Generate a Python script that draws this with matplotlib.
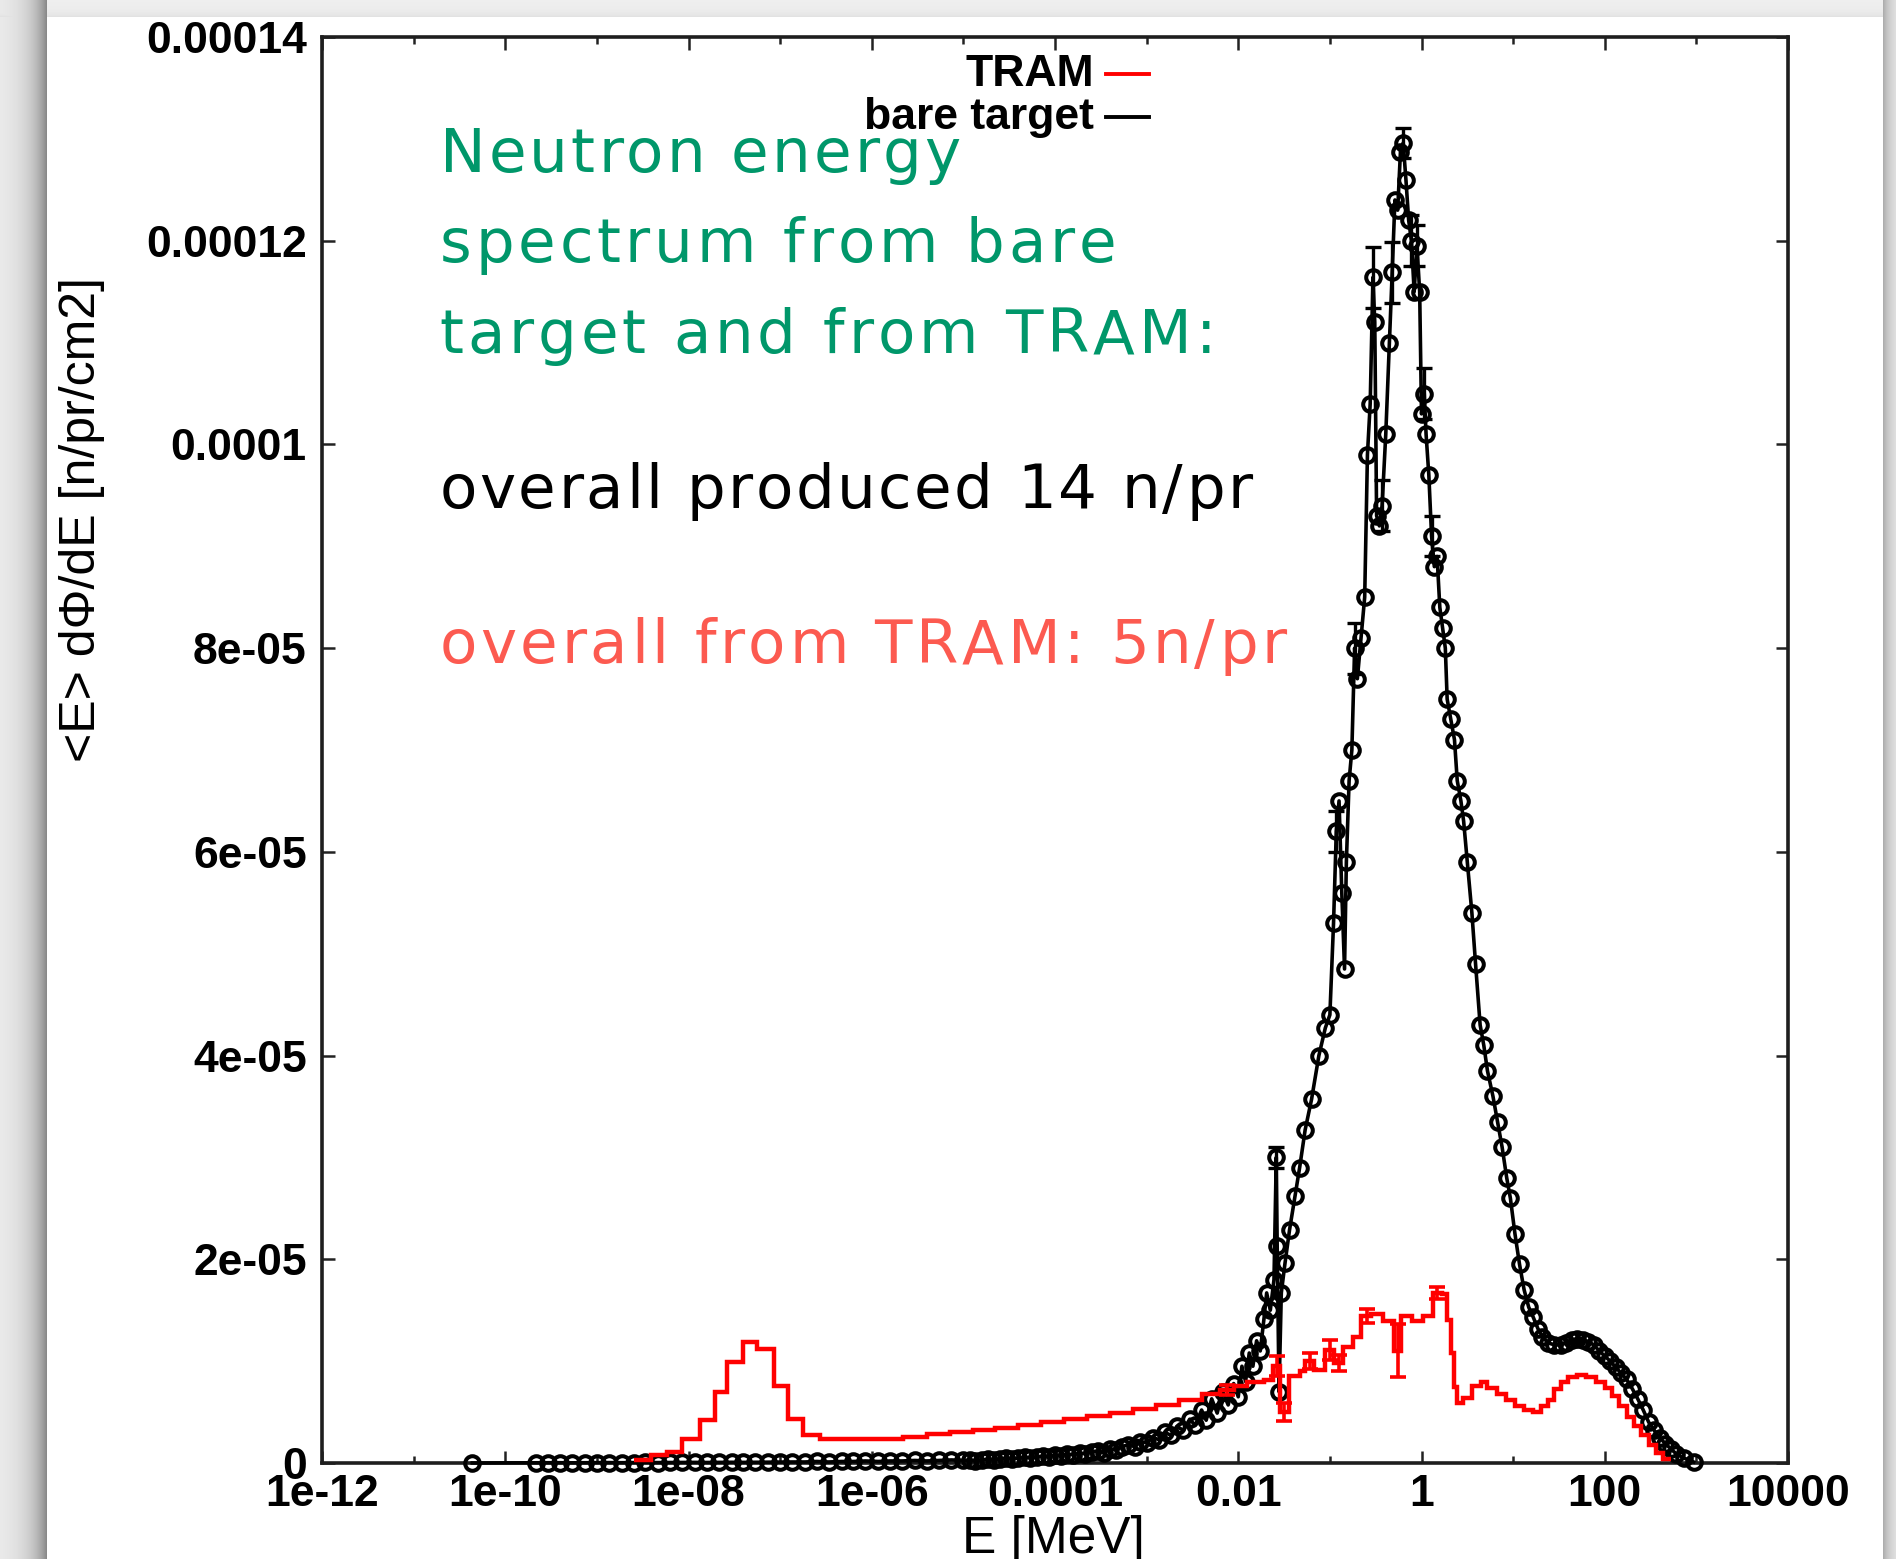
import numpy as np
import matplotlib
matplotlib.use("Agg")
import matplotlib.pyplot as plt
from matplotlib.ticker import FixedLocator, NullFormatter
from matplotlib.lines import Line2D
from matplotlib.font_manager import FontProperties, findfont, get_font

W, H, DPI = 1896, 1559, 100

# ---------------- data (energies as log10(E/MeV), flux in 1e-6 n/pr/cm2) ----------------
# bare target: thermal / epithermal points
black_low_logE = [-10.36, -9.66, -9.53, -9.40, -9.27, -9.13, -9.00, -8.87, -8.73, -8.60,
                  -8.47, -8.33, -8.20, -8.07, -7.93, -7.80, -7.67, -7.53, -7.40, -7.27,
                  -7.13, -7.00, -6.87, -6.73, -6.60, -6.47, -6.33, -6.20, -6.07, -5.93,
                  -5.80, -5.67, -5.53, -5.40, -5.27, -5.13, -5.00]
black_low_flux = [0.0, 0.02, 0.02, 0.03, 0.02, 0.03, 0.03, 0.04, 0.03, 0.04,
                  0.05, 0.04, 0.05, 0.05, 0.06, 0.05, 0.06, 0.07, 0.06, 0.07,
                  0.08, 0.08, 0.10, 0.10, 0.15, 0.10, 0.15, 0.15, 0.20, 0.15,
                  0.20, 0.20, 0.25, 0.20, 0.25, 0.30, 0.25]

# bare target: rise towards the evaporation peak
black_rise_logE = [-4.93, -4.87, -4.80, -4.73, -4.67, -4.60, -4.53, -4.47, -4.40, -4.33,
                   -4.27, -4.20, -4.13, -4.07, -4.00, -3.93, -3.87, -3.80, -3.73, -3.67,
                   -3.60, -3.53, -3.47, -3.40, -3.33, -3.27, -3.20, -3.13, -3.07, -3.00,
                   -2.93, -2.87, -2.80, -2.73, -2.67, -2.60, -2.53, -2.47, -2.40, -2.35,
                   -2.29, -2.23, -2.17, -2.11, -2.05, -2.00, -1.96, -1.92, -1.88, -1.84,
                   -1.80, -1.76, -1.72, -1.69, -1.65, -1.61, -1.585, -1.575, -1.555, -1.53,
                   -1.49, -1.44, -1.38, -1.33, -1.27, -1.20, -1.12, -1.05, -1.00]
black_rise_flux = [0.3, 0.2, 0.3, 0.4, 0.3, 0.4, 0.5, 0.4, 0.5, 0.6,
                   0.5, 0.6, 0.7, 0.6, 0.8, 0.7, 0.9, 0.8, 1.0, 0.9,
                   1.1, 1.2, 1.0, 1.4, 1.3, 1.6, 1.8, 1.6, 2.1, 2.0,
                   2.5, 2.3, 3.0, 2.7, 3.6, 3.2, 4.3, 3.7, 5.2, 4.2,
                   6.3, 4.9, 7.0, 5.7, 7.8, 6.5, 9.5, 8.0, 10.8, 9.5,
                   12.0, 11.0, 14.1, 16.7, 15.0, 18.0, 30.0, 21.3, 7.0, 16.7,
                   19.6, 22.9, 26.2, 29.0, 32.7, 35.7, 40.0, 42.7, 44.0]

# bare target: peak region
black_peak_logE = [-0.96, -0.93, -0.90, -0.87, -0.84, -0.82, -0.79, -0.76, -0.73, -0.70,
                   -0.66, -0.62, -0.59, -0.56, -0.53, -0.51, -0.49, -0.46, -0.43, -0.39,
                   -0.35, -0.32, -0.29, -0.26, -0.23, -0.20, -0.17, -0.14, -0.11, -0.08,
                   -0.05, -0.02, 0.00, 0.03, 0.05, 0.08, 0.11, 0.14, 0.17]
black_peak_flux = [53.0, 62.0, 65.0, 56.0, 48.5, 59.0, 67.0, 70.0, 80.0, 77.0,
                   81.0, 85.0, 99.0, 104.0, 116.4, 112.0, 93.0, 92.0, 94.0, 101.0,
                   110.0, 116.9, 124.0, 123.0, 128.7, 129.6, 126.0, 122.0, 120.0, 115.0,
                   119.5, 115.0, 103.0, 105.0, 101.0, 97.0, 91.0, 88.0, 89.0]

# bare target: fast / high-energy tail
black_tail_logE = [0.20, 0.23, 0.26, 0.28, 0.32, 0.36, 0.39, 0.43, 0.46, 0.50,
                   0.55, 0.59, 0.64, 0.68, 0.72, 0.78, 0.83, 0.88, 0.93, 0.97,
                   1.02, 1.07, 1.12, 1.17, 1.22, 1.27, 1.32, 1.38, 1.45, 1.52,
                   1.58, 1.64, 1.70, 1.76, 1.82, 1.88, 1.94, 2.00, 2.06, 2.12,
                   2.18, 2.24, 2.30, 2.36, 2.42, 2.48, 2.54, 2.60, 2.66, 2.72,
                   2.78, 2.86, 2.97]
black_tail_flux = [84.0, 82.0, 80.0, 75.0, 73.0, 71.0, 67.0, 65.0, 63.0, 59.0,
                   54.0, 49.0, 43.0, 41.0, 38.5, 36.0, 33.5, 31.0, 28.0, 26.0,
                   22.5, 19.5, 17.0, 15.3, 14.3, 13.2, 12.4, 11.8, 11.6, 11.6,
                   11.8, 12.1, 12.2, 12.1, 11.9, 11.6, 11.0, 10.5, 10.0, 9.4,
                   8.8, 8.2, 7.3, 6.3, 5.2, 4.0, 3.2, 2.5, 1.9, 1.4,
                   0.9, 0.5, 0.1]

# bare target: statistical error bars around the peak
black_bar_logE = [-1.585, -0.93, -0.73, -0.53, -0.43, -0.32, -0.20, -0.11, -0.05, 0.03, 0.11]
black_bar_flux = [30.0, 62.0, 80.0, 116.4, 94.0, 116.9, 129.6, 120.0, 119.5, 105.0, 91.0]
black_bar_err = [1.0, 2.0, 2.5, 3.0, 2.5, 3.0, 1.5, 2.5, 2.0, 2.5, 2.0]

# TRAM: histogram bin edges and contents
tram_edges_logE = [-8.60, -8.41, -8.24, -8.07, -7.87, -7.71, -7.58, -7.40, -7.25, -7.07,
                   -6.91, -6.75, -6.56, -5.66, -5.40, -5.15, -4.90, -4.65, -4.40, -4.15,
                   -3.90, -3.65, -3.40, -3.15, -2.90, -2.65, -2.40, -2.20, -2.05, -1.90,
                   -1.72, -1.62, -1.54, -1.45, -1.33, -1.27, -1.17, -1.05, -0.95, -0.86,
                   -0.75, -0.66, -0.55, -0.42, -0.30, -0.22, -0.10, 0.02, 0.13, 0.22,
                   0.28, 0.32, 0.35, 0.39, 0.45, 0.55, 0.65, 0.72, 0.82, 0.92,
                   1.02, 1.12, 1.22, 1.30, 1.38, 1.45, 1.52, 1.60, 1.70, 1.80,
                   1.90, 2.00, 2.08, 2.16, 2.24, 2.32, 2.40, 2.48, 2.56, 2.64,
                   2.72]
tram_flux = [0.3, 0.8, 1.1, 2.4, 4.2, 7.0, 9.95, 11.9, 11.2, 7.6,
             4.3, 2.75, 2.33, 2.6, 2.8, 3.0, 3.2, 3.4, 3.7, 4.0,
             4.3, 4.6, 4.9, 5.3, 5.7, 6.2, 6.8, 7.2, 7.6, 8.0,
             8.1, 9.5, 5.0, 8.5, 9.0, 10.0, 9.1, 11.1, 9.8, 11.4,
             12.4, 14.4, 14.6, 13.9, 11.0, 14.4, 13.9, 14.4, 16.7, 16.6,
             14.0, 10.8, 7.5, 5.9, 6.4, 7.6, 8.0, 7.4, 6.8, 6.2,
             5.6, 5.2, 5.0, 5.6, 6.2, 7.3, 8.0, 8.4, 8.6, 8.4,
             8.0, 7.4, 6.6, 5.6, 4.5, 3.6, 2.7, 1.8, 1.0, 0.4]

# TRAM: statistical error bars
tram_bar_logE = [-2.12, -1.58, -1.50, -1.22, -1.00, -0.90, -0.60, -0.26, 0.17]
tram_bar_flux = [7.2, 9.5, 5.0, 10.0, 11.1, 9.8, 14.4, 11.0, 16.7]
tram_bar_err = [0.5, 1.0, 0.9, 0.8, 1.0, 0.8, 0.7, 2.6, 0.6]

x_major = [1e-12, 1e-10, 1e-8, 1e-6, 1e-4, 1e-2, 1, 1e2, 1e4]
x_major_labels = ["1e-12", "1e-10", "1e-08", "1e-06", "0.0001", "0.01", "1", "100", "10000"]
x_minor = [1e-11, 1e-9, 1e-7, 1e-5, 1e-3, 1e-1, 1e1, 1e3]
y_major = [0, 2e-5, 4e-5, 6e-5, 8e-5, 1e-4, 1.2e-4, 1.4e-4]
y_major_labels = ["0", "2e-05", "4e-05", "6e-05", "8e-05", "0.0001", "0.00012", "0.00014"]

note_lines = ["Neutron energy", "spectrum from bare", "target and from TRAM:",
              "overall produced 14 n/pr", "overall from TRAM: 5n/pr"]

assert len(tram_edges_logE) == len(tram_flux) + 1

black_logE = np.array(black_low_logE + black_rise_logE + black_peak_logE + black_tail_logE)
black_flux = np.array(black_low_flux + black_rise_flux + black_peak_flux + black_tail_flux) * 1e-6

# ---------------- figure & slide backdrop ----------------
fig = plt.figure(figsize=(W / DPI, H / DPI), dpi=DPI)

px = np.arange(W)[None, :].astype(float)
py = np.arange(H)[:, None].astype(float)
page_l, page_r, page_t = 47, 1882, 17
dl = page_l - px
dr = px - page_r
dt = page_t - py
shade = np.zeros((H, W))
shade = np.maximum(shade, np.where(dl > 0, 0.40 * np.exp(-(dl - 1) / 16.0), 0) * np.ones((H, 1)))
shade = np.maximum(shade, np.where(dr > 0, 0.26 * np.exp(-(dr - 1) / 9.0), 0) * np.ones((H, 1)))
shade = np.maximum(shade, np.where(dt > 0, 0.05 * np.exp(-(dt - 1) / 5.0), 0) * np.ones((1, W)))
outside = (dl > 0) | (dr > 0) | (dt > 0)
gray = np.where(outside, 0.94 - shade, 1.0)
bg = fig.add_axes([0, 0, 1, 1], zorder=-10)
bg.imshow(np.dstack([gray] * 3), aspect="auto", interpolation="bilinear")
bg.set_axis_off()

# ---------------- spectrum axes ----------------
ax = fig.add_axes([322 / W, 1 - 1463 / H, (1788 - 322) / W, (1463 - 37) / H])
ax.set_facecolor("none")
ax.set_xscale("log")
ax.set_xlim(1e-12, 1e4)
ax.set_ylim(0, 1.4e-4)

tick_font = dict(family="Liberation Sans", weight="bold", size=32)
ax.set_xticks(x_major)
ax.set_xticklabels(x_major_labels, fontdict=tick_font)
ax.xaxis.set_minor_locator(FixedLocator(x_minor))
ax.xaxis.set_minor_formatter(NullFormatter())
ax.set_yticks(y_major)
ax.set_yticklabels(y_major_labels, fontdict=tick_font)
ax.tick_params(which="both", direction="in", top=True, right=True, width=1.8, color="#222222")
ax.tick_params(which="major", length=9)
ax.tick_params(which="minor", length=5)
ax.tick_params(axis="y", pad=11)
ax.tick_params(axis="x", pad=8)
for s in ax.spines.values():
    s.set_linewidth(2.6)
    s.set_color("#1e1e1e")

# bare target
ax.plot(10 ** black_logE, black_flux, "-o", color="black", lw=2.6, ms=10.5,
        mfc="none", mew=2.9, clip_on=False, zorder=3)
ax.errorbar(10 ** np.array(black_bar_logE), np.array(black_bar_flux) * 1e-6,
            yerr=np.array(black_bar_err) * 1e-6, fmt="none", ecolor="black",
            elinewidth=2.4, capsize=6, capthick=2.4, zorder=3)

# TRAM
ax.stairs(np.array(tram_flux) * 1e-6, 10 ** np.array(tram_edges_logE), color="red",
          lw=3.2, baseline=None, zorder=4)
ax.errorbar(10 ** np.array(tram_bar_logE), np.array(tram_bar_flux) * 1e-6,
            yerr=np.array(tram_bar_err) * 1e-6, fmt="none", ecolor="red",
            elinewidth=2.6, capsize=6, capthick=2.6, zorder=4)

# key
key_font = dict(family="Liberation Sans", weight="bold", size=32)
fig.text(1094 / W, 1 - 74 / H, "TRAM", ha="right", va="center", **key_font)
fig.text(1094 / W, 1 - 117 / H, "bare target", ha="right", va="center", **key_font)
fig.add_artist(Line2D([1106 / W, 1149 / W], [1 - 74 / H] * 2, color="red", lw=2.8))
fig.add_artist(Line2D([1106 / W, 1149 / W], [1 - 117 / H] * 2, color="black", lw=2.8))

# axis titles
fig.text(82 / W, 1 - 520 / H, "<E> dΦ/dE [n/pr/cm2]", rotation=90, ha="center", va="center",
         family="Liberation Sans", size=36)
fig.text(1053 / W, 1 - 1540 / H, "E [MeV]", ha="center", va="center",
         family="Liberation Sans", size=37)


# slide annotations, set with open letter spacing
def spaced_text(x_px, y_px, text, track_px, color, family="DejaVu Sans", size=44):
    font = get_font(findfont(FontProperties(family=family)))
    font.set_size(size, DPI)
    unit = 64.0 * plt.rcParams["text.hinting_factor"]
    pen = x_px
    for ch in text:
        glyph = font.load_char(ord(ch))
        if ch != " ":
            fig.text((pen + glyph.horiBearingX / unit) / W, 1 - y_px / H, ch,
                     color=color, va="baseline", ha="left", family=family, size=size)
        pen += glyph.horiAdvance / unit + track_px


green = "#00976a"
spaced_text(439, 172, note_lines[0], 3.1, green)
spaced_text(439, 262, note_lines[1], 3.9, green)
spaced_text(439, 353, note_lines[2], 3.9, green)
spaced_text(439, 508, note_lines[3], 2.5, "black")
spaced_text(439, 663, note_lines[4], 3.5, "#fc5a50")

fig.savefig("out.png", dpi=DPI)
